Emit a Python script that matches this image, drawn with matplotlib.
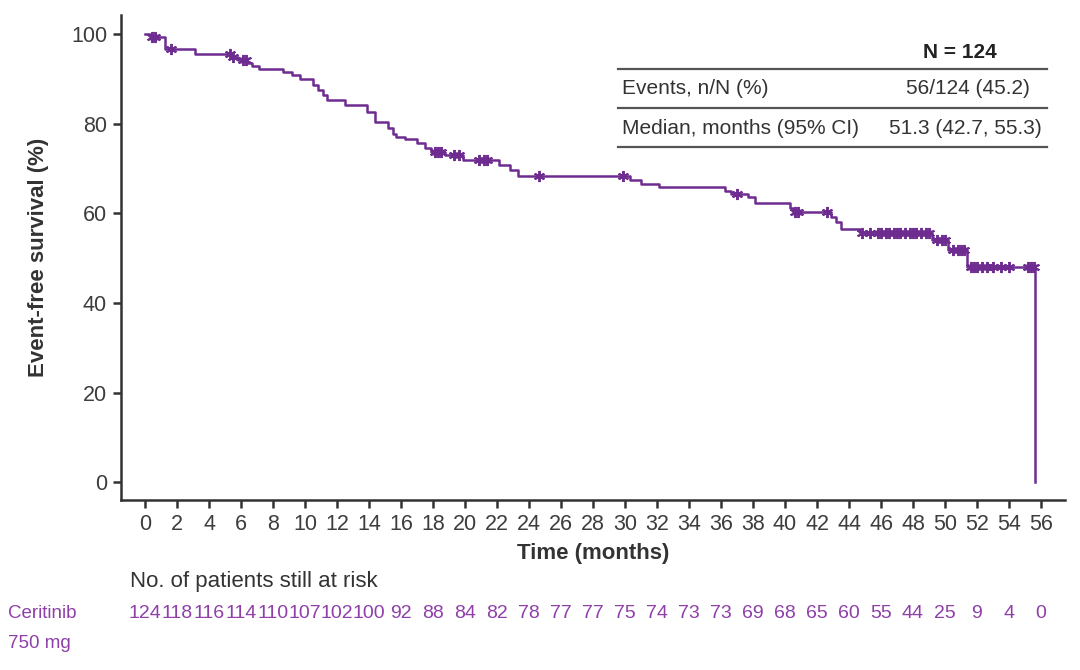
import numpy as np
import matplotlib
matplotlib.use("Agg")
import matplotlib.pyplot as plt
from matplotlib import font_manager
from matplotlib.transforms import blended_transform_factory

# ---- data ----
event_times = [0, 0.3, 1.25, 3.1, 5.4, 5.8, 6.4, 6.7, 7.1, 8.6, 9.2, 9.7, 10.5, 10.8,
               11.1, 11.4, 12.5, 13.9, 14.4, 15.2, 15.5, 15.7, 16.25, 17.0, 17.5, 17.9,
               18.75, 19.9, 22.1, 22.8, 23.3, 30.3, 31.0, 32.1, 36.25, 36.6, 37.7, 38.1,
               40.3, 40.5, 42.9, 43.2, 43.5, 44.7, 49.2, 50.2, 51.4, 55.6]
survival = [100, 99.4, 96.8, 95.5, 94.9, 94.2, 93.6, 92.9, 92.2, 91.6, 90.8, 89.9, 88.6, 87.5,
            86.4, 85.3, 84.2, 82.7, 80.4, 79.0, 77.8, 77.1, 76.5, 75.7, 74.5, 73.7,
            73.0, 71.9, 70.8, 69.6, 68.3, 67.4, 66.5, 65.8, 65.0, 64.4, 63.7, 62.4,
            61.1, 60.3, 59.2, 58.1, 56.6, 55.7, 54.0, 51.9, 48.1, 0]
censor_times = [0.45, 0.6, 1.6, 5.3, 5.5, 6.1, 6.3, 18.1, 18.3, 18.5, 19.3, 19.6, 20.9, 21.2,
                21.4, 24.6, 29.9, 37.0, 40.6, 40.8, 42.6, 44.8, 45.3, 45.8, 46.0, 46.3, 46.5,
                46.8, 47.0, 47.2, 47.5, 47.8, 48.0, 48.2, 48.5, 48.8, 49.0, 49.5, 49.8, 50.0,
                50.5, 50.8, 51.0, 51.2, 51.6, 51.8, 52.0, 52.3, 52.6, 53.0, 53.5, 54.0, 55.2,
                55.4, 55.55]
risk_times = list(range(0, 57, 2))
at_risk = [124, 118, 116, 114, 110, 107, 102, 100, 92, 88, 84, 82, 78, 77, 77, 75, 74,
           73, 73, 69, 68, 65, 60, 55, 44, 25, 9, 4, 0]
x_ticks = list(range(0, 57, 2))
y_ticks = [0, 20, 40, 60, 80, 100]
table_rows = ["Events, n/N (%)", "Median, months (95% CI)"]
table_vals = ["56/124 (45.2)", "51.3 (42.7, 55.3)"]
table_header = "N = 124"
group_label = "Ceritinib\n750 mg"

# ---- style ----
avail = {f.name for f in font_manager.fontManager.ttflist}
base = "Liberation Sans" if "Liberation Sans" in avail else "DejaVu Sans"
narrow = "Liberation Sans Narrow" if "Liberation Sans Narrow" in avail else None
plt.rcParams["font.family"] = [base, "DejaVu Sans"]

line_col = "#6E2C90"
risk_col = "#8E3FA8"
txt_col = "#333333"
W, H = 1080, 670

fig = plt.figure(figsize=(10.8, 6.7), dpi=100)
ax = fig.add_axes([121 / W, 1 - 500 / H, (1065 - 121) / W, (500 - 15) / H])

ax.step(event_times, survival, where="post", color=line_col, lw=1.8)
cens_y = [survival[np.searchsorted(event_times, t, side="right") - 1] for t in censor_times]
ax.plot(censor_times, cens_y, ls="none", marker=(6, 2, 0), ms=8, mew=1.4, color=line_col)

ax.set_xlim(-1.5, 57.5)
ax.set_ylim(-4.0, 104.3)
ax.set_xticks(x_ticks)
ax.set_yticks(y_ticks)
for s in ["top", "right"]:
    ax.spines[s].set_visible(False)
for s in ["left", "bottom"]:
    ax.spines[s].set_linewidth(1.8)
    ax.spines[s].set_color("#333333")
ax.tick_params(axis="both", length=6, width=1.8, color="#333333", labelsize=15.5,
               labelcolor="#3d3d3d", pad=4)
ax.set_xlabel("Time (months)", fontsize=16, fontweight="bold", color=txt_col, labelpad=6)
ax.set_ylabel("Event-free survival (%)", fontsize=16, fontweight="bold", color=txt_col, labelpad=16)

# ---- summary table ----
def fy(py):
    return 1 - py / H

fig.text(960 / W, fy(52), table_header, ha="center", va="center", fontsize=15,
         fontweight="bold", color="#222222")
for py in [69, 108, 147]:
    fig.add_artist(plt.Line2D([618 / W, 1047 / W], [fy(py), fy(py)], color="#555555", lw=1.6))
for i, (lab, val) in enumerate(zip(table_rows, table_vals)):
    py = 89 + i * 39
    fig.text(622 / W, fy(py), lab, ha="left", va="center", fontsize=15, color=txt_col)
    fig.text((1030 + i * 12) / W, fy(py), val, ha="right", va="center", fontsize=15, color=txt_col)

# ---- risk table ----
fig.text(130 / W, fy(582), "No. of patients still at risk", ha="left", va="center",
         fontsize=16, color=txt_col)
tr = blended_transform_factory(ax.transData, fig.transFigure)
rfam = [narrow, base] if narrow else [base]
rsize = 15.5 if narrow else 14
for t, n in zip(risk_times, at_risk):
    ax.text(t, fy(614), str(n), transform=tr, ha="center", va="center", fontsize=rsize,
            color=risk_col, family=rfam, clip_on=False)
fig.text(8 / W, fy(614), "Ceritinib", ha="left", va="center", fontsize=rsize - 0.5,
         color=risk_col, family=rfam)
fig.text(8 / W, fy(643), "750 mg", ha="left", va="center", fontsize=rsize - 0.5,
         color=risk_col, family=rfam)

fig.savefig("out.png", dpi=100)
